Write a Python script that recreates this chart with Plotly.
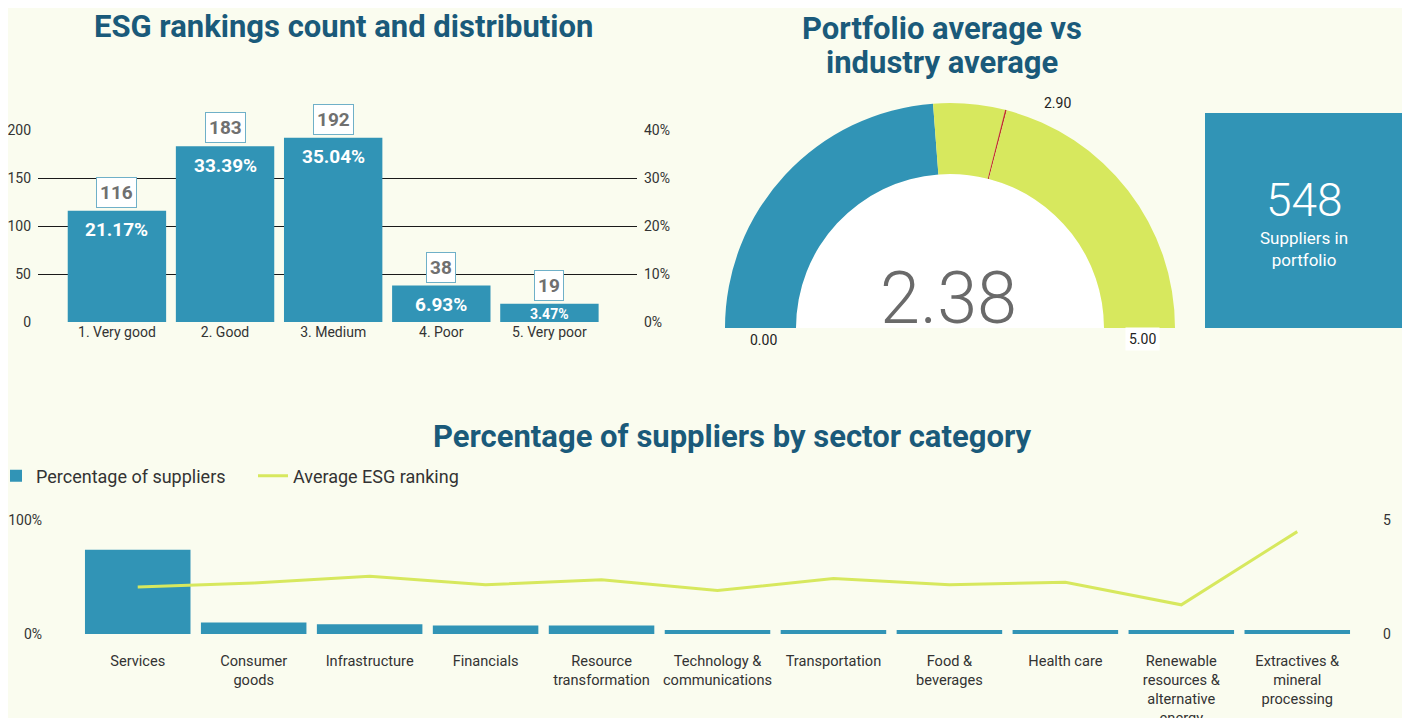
import plotly.graph_objects as go

# ── data ─────────────────────────────────────────────────────────────

rank_labels = ["1. Very good", "2. Good", "3. Medium", "4. Poor", "5. Very poor"]
rank_counts = [116, 183, 192, 38, 19]

portfolio_avg = 2.38
industry_avg = 2.90
scale_max = 5
suppliers_total = 548

sectors = [
    "Services", "Consumer<br>goods", "Infrastructure", "Financials",
    "Resource<br>transformation", "Technology &<br>communications", "Transportation",
    "Food &<br>beverages", "Health care",
    "Renewable<br>resources &<br>alternative<br>energy",
    "Extractives &<br>mineral<br>processing",
]
sector_share = [0.74, 0.10, 0.085, 0.074, 0.074, 0.035, 0.035, 0.035, 0.035, 0.035, 0.035]
sector_esg = [2.06, 2.24, 2.53, 2.16, 2.38, 1.91, 2.43, 2.16, 2.27, 1.28, 4.49]

# ── style ────────────────────────────────────────────────────────────

BLUE = "#3194b6"
GREEN = "#d7e85e"
BG = "#fafcef"
TITLE = "#1a5a7a"
FONT = "Roboto, sans-serif"
TITLE_FONT = {"family": FONT, "size": 31, "color": TITLE, "weight": "bold"}

# page body has an 8px margin, so the figure is sized to fit inside the window
OFF = 8
W, H = 1394, 710


def px(x):
    return (x - OFF) / W


def py(y):
    return (H - (y - OFF)) / H


fig = go.Figure()

# ── ESG rankings bars ────────────────────────────────────────────────

total = sum(rank_counts)
shares = [c / total for c in rank_counts]
fig.add_trace(
    go.Bar(
        x=rank_labels,
        y=rank_counts,
        marker={"color": BLUE, "line": {"width": 0}},
        showlegend=False,
        hoverinfo="skip",
    )
)
fig.add_trace(
    go.Scatter(x=rank_labels, y=shares, yaxis="y2", mode="none", showlegend=False, hoverinfo="skip")
)
for lab, c, s in zip(rank_labels, rank_counts, shares):
    fig.add_annotation(
        x=lab, y=c, xref="x", yref="y", text=f"<b>{c}</b>", showarrow=False,
        yanchor="bottom", yshift=3, bgcolor="white", bordercolor="#6fb0c8", borderwidth=1,
        borderpad=3, font={"size": 19, "color": "#707070", "family": FONT},
    )
    big = c > 30
    fig.add_annotation(
        x=lab, y=c, xref="x", yref="y", text=f"<b>{s:.2%}</b>", showarrow=False,
        yanchor="middle", yshift=-19 if big else -10,
        font={"size": 19 if big else 14, "color": "white", "family": FONT},
    )

# ── gauge (pie arcs) ─────────────────────────────────────────────────

eps = 0.012
gauge_vals = [
    portfolio_avg,
    industry_avg - portfolio_avg - eps / 2,
    eps,
    scale_max - industry_avg - eps / 2,
    scale_max,
]
cx, cy, r_out, r_in = 950, 328, 225, 154
fig.add_trace(
    go.Pie(
        values=[scale_max, scale_max],
        marker={"colors": ["white", "rgba(0,0,0,0)"], "line": {"width": 0}},
        sort=False, direction="clockwise", rotation=-90, textinfo="none",
        hoverinfo="skip", showlegend=False,
        domain={"x": [px(cx - r_in), px(cx + r_in)], "y": [py(cy + r_in), py(cy - r_in)]},
    )
)
fig.add_trace(
    go.Pie(
        values=gauge_vals,
        hole=r_in / r_out,
        marker={"colors": [BLUE, GREEN, "#c0392b", GREEN, "rgba(0,0,0,0)"], "line": {"width": 0}},
        sort=False, direction="clockwise", rotation=-90, textinfo="none",
        hoverinfo="skip", showlegend=False,
        domain={"x": [px(cx - r_out), px(cx + r_out)], "y": [py(cy + r_out), py(cy - r_out)]},
    )
)

# ── sector bars + ESG line ───────────────────────────────────────────

fig.add_trace(
    go.Bar(
        x=sectors, y=sector_share, xaxis="x3", yaxis="y3", name="Percentage of suppliers",
        marker={"color": BLUE, "line": {"width": 0}}, hoverinfo="skip",
    )
)
fig.add_trace(
    go.Scatter(
        x=sectors, y=sector_esg, xaxis="x3", yaxis="y4", name="Average ESG ranking",
        mode="lines", line={"color": GREEN, "width": 3}, hoverinfo="skip",
    )
)

# ── text ─────────────────────────────────────────────────────────────

small = {"size": 14, "color": "#222", "family": FONT}
annots = [
    dict(x=px(343), y=py(27), text="ESG rankings count and distribution", font=TITLE_FONT),
    dict(x=px(942), y=py(29), text="Portfolio average vs", font=TITLE_FONT),
    dict(x=px(942), y=py(62), text="industry average", font=TITLE_FONT),
    dict(x=px(732), y=py(436), text="Percentage of suppliers by sector category", font=TITLE_FONT),
    dict(x=px(948), y=py(298), text=f"{portfolio_avg:.2f}",
         font={"size": 72, "color": "#6a6a6a", "family": FONT, "weight": 300}),
    dict(x=px(763), y=py(340), text=f"{0:.2f}", font=small),
    dict(x=px(1142), y=py(339), text=f"{scale_max:.2f}", bgcolor="white", borderpad=3, font=small),
    dict(x=px(1057), y=py(103), text=f"{industry_avg:.2f}", font=small),
    dict(x=px(1304), y=py(200), text=str(suppliers_total),
         font={"size": 46, "color": "white", "family": FONT, "weight": 300}),
    dict(x=px(1304), y=py(249), text="Suppliers in<br>portfolio",
         font={"size": 17, "color": "white", "family": FONT}),
]
for a in annots:
    fig.add_annotation(xref="paper", yref="paper", showarrow=False,
                       xanchor="center", yanchor="middle", **a)

fig.add_shape(
    type="rect", xref="paper", yref="paper", x0=px(1205), x1=px(1402), y0=py(328), y1=py(113),
    fillcolor=BLUE, line={"width": 0}, layer="below",
)

tick_font = {"size": 14, "color": "#333", "family": FONT}
grid = {"showgrid": True, "gridcolor": "#1a1a1a", "gridwidth": 1, "zeroline": False}

fig.update_layout(
    width=W, height=H,
    paper_bgcolor=BG, plot_bgcolor=BG,
    margin={"l": 0, "r": 0, "t": 0, "b": 0, "autoexpand": False},
    bargap=0.09,
    font={"family": FONT},
    xaxis={"domain": [px(38), px(637)], "anchor": "y", "range": [-0.73, 4.81],
           "tickfont": tick_font, "ticks": "", "automargin": False},
    yaxis={"domain": [py(322), py(130)], "range": [0, 200], "tickvals": [0, 50, 100, 150, 200],
           "tickfont": tick_font, "ticklabelstandoff": 6, "automargin": False, **grid},
    yaxis2={"overlaying": "y", "side": "right", "range": [0, 0.4], "tickformat": ".0%",
            "tickvals": [0, 0.1, 0.2, 0.3, 0.4], "tickfont": tick_font, "showgrid": False,
            "zeroline": False, "ticklabelstandoff": 6, "automargin": False},
    xaxis3={"domain": [px(67), px(1368)], "anchor": "y3", "range": [-0.61, 10.61],
            "tickfont": {**tick_font, "size": 14.6}, "ticks": "", "ticklabelstandoff": 16,
            "automargin": False},
    yaxis3={"domain": [py(634), py(520)], "anchor": "x3", "range": [0, 1], "tickvals": [0, 1],
            "tickformat": ".0%", "tickfont": tick_font, "ticklabelstandoff": 24,
            "automargin": False, **grid},
    yaxis4={"overlaying": "y3", "side": "right", "anchor": "x3", "range": [0, 5], "tickvals": [0, 5],
            "tickfont": tick_font, "showgrid": False, "zeroline": False, "ticklabelstandoff": 14,
            "automargin": False},
    legend={"orientation": "h", "x": px(-4), "y": py(476), "yanchor": "middle",
            "entrywidth": 212, "entrywidthmode": "pixels",
            "font": {"size": 18, "color": "#333", "family": FONT}, "bgcolor": "rgba(0,0,0,0)"},
)

fig.write_html("out.html")
